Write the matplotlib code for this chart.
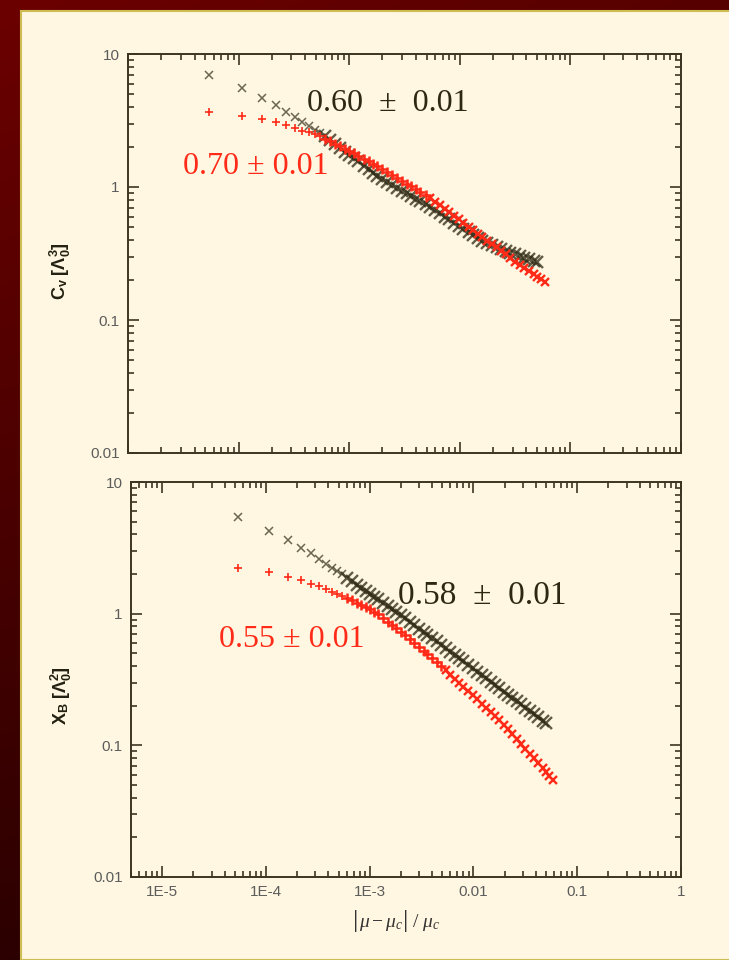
import numpy as np
import matplotlib
matplotlib.use("Agg")
import matplotlib.pyplot as plt
from matplotlib.ticker import LogLocator, FixedLocator, FixedFormatter, NullFormatter
from matplotlib.patches import Rectangle

plt.rcParams['font.family'] = ['Liberation Sans', 'DejaVu Sans']
plt.rcParams['mathtext.fontset'] = 'custom'
plt.rcParams['mathtext.rm'] = 'Liberation Serif'
plt.rcParams['mathtext.it'] = 'Liberation Serif:italic'
plt.rcParams['mathtext.bf'] = 'Liberation Sans:bold'
plt.rcParams['mathtext.sf'] = 'Liberation Sans'

# reduced distance from the critical chemical potential, |mu - mu_c| / mu_c
mu = [5.4e-5, 1.08e-4, 1.62e-4, 2.16e-4, 2.7e-4, 3.24e-4, 3.78e-4, 4.32e-4,
      4.86e-4, 5.4e-4, 6.0e-4, 6.7e-4, 7.5e-4, 8.3e-4, 9.2e-4, 1.0e-3,
      1.1e-3, 1.2e-3, 1.35e-3, 1.5e-3, 1.65e-3, 1.8e-3, 2.0e-3, 2.2e-3,
      2.45e-3, 2.7e-3, 3.0e-3, 3.3e-3, 3.6e-3, 4.0e-3, 4.4e-3, 4.9e-3,
      5.4e-3, 6.0e-3, 6.6e-3, 7.3e-3, 8.0e-3, 8.9e-3, 9.8e-3, 0.0108,
      0.012, 0.0132, 0.0146, 0.016, 0.0177, 0.0195, 0.0215, 0.0237,
      0.026, 0.0287, 0.0316, 0.0348, 0.0383, 0.0422, 0.0465, 0.050,
      0.054, 0.059]

# specific heat C_v [Lambda_0^3]
cv_black = [6.95, 5.55, 4.68, 4.17, 3.68, 3.36, 3.09, 2.88, 2.70, 2.56,
            2.40, 2.24, 2.09, 1.96, 1.84, 1.75, 1.65, 1.56, 1.45, 1.36,
            1.28, 1.21, 1.14, 1.09, 1.035, 0.989, 0.940, 0.895, 0.861, 0.818,
            0.782, 0.741, 0.708, 0.668, 0.634, 0.600, 0.570, 0.538, 0.511, 0.484,
            0.456, 0.433, 0.412, 0.394, 0.378, 0.364, 0.352, 0.340, 0.330, 0.321,
            0.312, 0.303, 0.294, 0.286, 0.278, 0.272]
cv_red = [3.66, 3.42, 3.24, 3.08, 2.92, 2.78, 2.64, 2.57, 2.50, 2.41,
          2.31, 2.21, 2.11, 2.02, 1.94, 1.87, 1.79, 1.72, 1.63, 1.56,
          1.49, 1.43, 1.36, 1.29, 1.23, 1.17, 1.11, 1.06, 1.01, 0.959,
          0.914, 0.867, 0.826, 0.773, 0.730, 0.686, 0.647, 0.607, 0.571, 0.538,
          0.504, 0.474, 0.447, 0.423, 0.396, 0.373, 0.351, 0.330, 0.311, 0.292,
          0.275, 0.261, 0.247, 0.234, 0.221, 0.212, 0.203, 0.193]

# susceptibility X_B [Lambda_0^2]
chi_black = [5.41, 4.23, 3.61, 3.16, 2.87, 2.59, 2.40, 2.24, 2.10, 1.99,
             1.87, 1.77, 1.66, 1.57, 1.49, 1.42, 1.35, 1.29, 1.21, 1.14,
             1.09, 1.035, 0.977, 0.925, 0.867, 0.820, 0.771, 0.728, 0.692, 0.650,
             0.615, 0.578, 0.546, 0.513, 0.484, 0.457, 0.434, 0.407, 0.385, 0.363,
             0.341, 0.323, 0.304, 0.288, 0.272, 0.256, 0.243, 0.229, 0.217, 0.205,
             0.193, 0.182, 0.173, 0.163, 0.154, 0.148]
chi_red = [2.21, 2.06, 1.89, 1.79, 1.69, 1.61, 1.53, 1.47, 1.41, 1.36,
           1.31, 1.26, 1.21, 1.16, 1.12, 1.09, 1.035, 0.986, 0.923, 0.869,
           0.820, 0.778, 0.728, 0.686, 0.638, 0.598, 0.557, 0.521, 0.492, 0.457,
           0.429, 0.397, 0.372, 0.344, 0.321, 0.298, 0.279, 0.258, 0.240, 0.224,
           0.207, 0.193, 0.179, 0.168, 0.156, 0.143, 0.132, 0.121, 0.111, 0.102,
           0.094, 0.0863, 0.0796, 0.0731, 0.0673, 0.0631, 0.059, 0.0546]

# fitted exponents
cv_black_label = "0.60\u2002±\u20020.01"
cv_red_label = "0.70 ± 0.01"
chi_black_label = "0.58\u2002±\u20020.01"
chi_red_label = "0.55 ± 0.01"

x_ticks = [1e-5, 1e-4, 1e-3, 1e-2, 1e-1, 1]
x_ticklabels = ["1E-5", "1E-4", "1E-3", "0.01", "0.1", "1"]
y_ticks = [0.01, 0.1, 1, 10]
y_ticklabels = ["0.01", "0.1", "1", "10"]

# ---- styling ----
CREAM = "#fff7e1"
FRAME = "#3b3522"
DARK = "#2d2813"
RED = "#ff2a17"
TICKTXT = "#5c5c5c"
SERIF = ["Liberation Serif", "DejaVu Serif"]
split = 5.2e-3   # the red data switch to a second run beyond this point
n_sparse = 10    # leading, well separated points

W, H = 729, 960
fig = plt.figure(figsize=(W / 100, H / 100), dpi=100)

# maroon backdrop with a soft vertical gradient
bg = fig.add_axes([0, 0, 1, 1], zorder=-10)
bg.axis("off")
yy = np.linspace(0, 1, H)[:, None, None]
xx = np.linspace(0, 1, W)[None, :, None]
c_top = np.array([0x6c, 0x00, 0x00]) / 255
c_bot = np.array([0x2c, 0x00, 0x00]) / 255
img = (c_top * (1 - yy) + c_bot * yy) * (1 - 0.2 * xx)
bg.imshow(img, aspect="auto", extent=[0, 1, 0, 1], origin="upper")
bg.set_xlim(0, 1)
bg.set_ylim(0, 1)
bg.add_patch(Rectangle((20.5 / W, 0), 1, 1 - 10.5 / H, facecolor=CREAM,
                       edgecolor="#cdbd52", linewidth=1.5))


def style_axes(ax, xlim, show_xlabels):
    ax.set_facecolor(CREAM)
    ax.set_xscale("log")
    ax.set_yscale("log")
    ax.set_xlim(*xlim)
    ax.set_ylim(0.01, 10)
    for s in ax.spines.values():
        s.set_color(FRAME)
        s.set_linewidth(1.4)
    ax.xaxis.set_major_locator(FixedLocator(x_ticks))
    ax.xaxis.set_minor_locator(LogLocator(base=10, subs=np.arange(2, 10), numticks=20))
    ax.yaxis.set_major_locator(FixedLocator(y_ticks))
    ax.yaxis.set_minor_locator(LogLocator(base=10, subs=np.arange(2, 10), numticks=20))
    ax.yaxis.set_major_formatter(FixedFormatter(y_ticklabels))
    ax.yaxis.set_minor_formatter(NullFormatter())
    ax.xaxis.set_minor_formatter(NullFormatter())
    if show_xlabels:
        ax.xaxis.set_major_formatter(FixedFormatter(x_ticklabels))
    else:
        ax.xaxis.set_major_formatter(NullFormatter())
    ax.tick_params(which="both", direction="in", top=True, right=True,
                   color=FRAME, width=1.2, labelcolor=TICKTXT, labelsize=11)
    ax.tick_params(which="major", length=8, pad=6)
    ax.tick_params(which="minor", length=4)


def draw_pair(ax, y_black, y_red):
    xb = np.array(mu[:len(y_black)])
    yb = np.array(y_black)
    ax.plot(xb[:n_sparse], yb[:n_sparse], linestyle="none", marker="x",
            markersize=6, markeredgewidth=1.1, color=DARK, alpha=0.7)
    ax.plot(xb[n_sparse:], yb[n_sparse:], linestyle="none", marker="x",
            markersize=8.5, markeredgewidth=1.7, color=DARK, alpha=0.75)
    xr = np.array(mu[:len(y_red)])
    yr = np.array(y_red)
    low = xr < split
    first = np.arange(len(xr)) < n_sparse
    ax.plot(xr[low & first], yr[low & first], linestyle="none", marker="+",
            markersize=6, markeredgewidth=1.2, color=RED)
    ax.plot(xr[low & ~first], yr[low & ~first], linestyle="none", marker="+",
            markersize=7, markeredgewidth=1.8, color=RED)
    ax.plot(xr[~low], yr[~low], linestyle="none", marker="x", markersize=6,
            markeredgewidth=1.7, color=RED)


# upper panel: specific heat
ax1 = fig.add_axes([128 / W, 1 - 453 / H, 553 / W, 399 / H])
style_axes(ax1, (1e-5, 1), False)
draw_pair(ax1, cv_black, cv_red)
ax1.text(0.470, 0.876, cv_black_label, transform=ax1.transAxes, ha="center",
         va="center", fontsize=23, family=SERIF, color=DARK)
ax1.text(0.231, 0.719, cv_red_label, transform=ax1.transAxes, ha="center",
         va="center", fontsize=23, family=SERIF, color=RED)

# lower panel: susceptibility
ax2 = fig.add_axes([131 / W, 1 - 877 / H, 550 / W, 395 / H])
style_axes(ax2, (5e-6, 1), True)
draw_pair(ax2, chi_black, chi_red)
ax2.text(0.638, 0.711, chi_black_label, transform=ax2.transAxes, ha="center",
         va="center", fontsize=24, family=SERIF, color=DARK)
ax2.text(0.293, 0.602, chi_red_label, transform=ax2.transAxes, ha="center",
         va="center", fontsize=23, family=SERIF, color=RED)

fig.text(60 / W, 1 - 271 / H, r"$\mathbf{C}_{\mathbf{v}}\ \mathbf{[\Lambda_0^3]}$",
         rotation=90, ha="center", va="center", fontsize=13, color="#222010")
fig.text(61 / W, 1 - 696 / H, r"$\mathbf{X}_{\mathbf{B}}\ \mathbf{[\Lambda_0^2]}$",
         rotation=90, ha="center", va="center", fontsize=13, color="#222010")

# x label |mu - mu_c| / mu_c, with tall absolute-value bars
renderer = fig.canvas.get_renderer()
pieces = [("|", dict(family=SERIF, fontsize=19)),
          (r"$\mu - \mu_c$", dict(fontsize=14)),
          ("|", dict(family=SERIF, fontsize=19)),
          (r"$\ /\ \mu_c$", dict(fontsize=14))]
widths = []
for s, kw in pieces:
    t = fig.text(0, 0, s, **kw)
    widths.append(t.get_window_extent(renderer).width)
    t.remove()
x0 = 397 - sum(widths) / 2
base_y = 1 - 927 / H
for (s, kw), w in zip(pieces, widths):
    fig.text(x0 / W, base_y, s, ha="left", va="baseline", color="#333", **kw)
    x0 += w

fig.savefig("out.png", dpi=100, facecolor="#5a0000")
